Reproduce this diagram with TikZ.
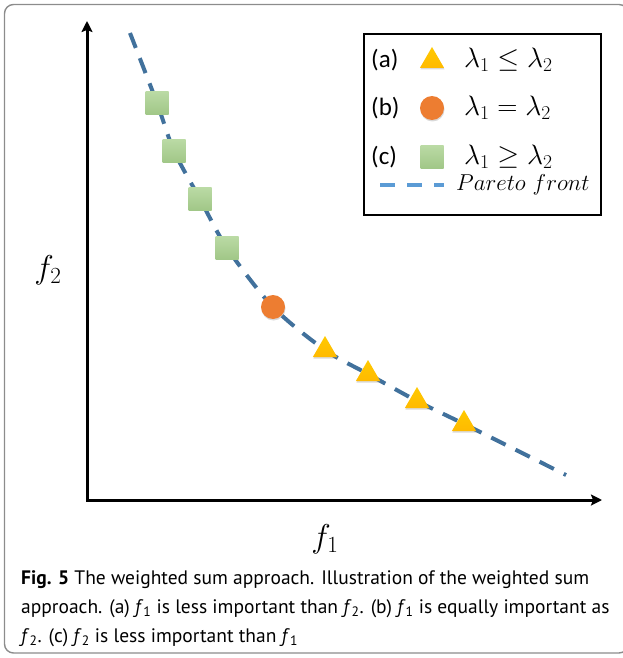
\RequirePackage{fix-cm}
\documentclass[tikz,border=0pt]{standalone}
\usepackage{amsmath}
\usepackage{amssymb}
\usepackage{xcolor}
\usepackage{fontspec}
\usetikzlibrary{arrows.meta,shapes.geometric,shadows,backgrounds}
\newfontfamily\capfont{PT Sans}
\newfontfamily\legfont{Carlito}
\definecolor{frontblue}{HTML}{41719C}
\definecolor{legblue}{HTML}{5B9BD5}
\definecolor{trigold}{HTML}{FFC000}
\definecolor{dotorange}{HTML}{ED7D31}
\definecolor{sqgreen}{HTML}{A9D18E}
\definecolor{framegray}{HTML}{8C8C8C}

\begin{document}
\begin{tikzpicture}[x=1pt,y=-1pt,>={Stealth[length=11pt,width=11pt,inset=2pt]},
  axis/.style={line width=3pt,line join=miter},
  frontline/.style={frontblue,line width=4pt,dash pattern=on 16pt off 11pt},
  sqmark/.style={rectangle,minimum size=23pt,inner sep=0pt,
    top color=sqgreen!80!white,bottom color=sqgreen!95!black},
  dotmark/.style={circle,minimum size=24pt,inner sep=0pt,fill=dotorange,
    drop shadow={opacity=0.3,shadow xshift=0.5pt,shadow yshift=-1.5pt}},
  trimark/.style={regular polygon,regular polygon sides=3,minimum size=28pt,
    inner sep=0pt,top color=trigold!85!yellow,bottom color=trigold!90!orange,
    drop shadow={opacity=0.3,shadow xshift=0.5pt,shadow yshift=-1.5pt}},
  axlabel/.style={font=\fontsize{33}{36}\selectfont},
  legtext/.style={anchor=west,inner sep=0pt,font=\legfont\fontsize{25}{28}\selectfont},
  lammath/.style={anchor=west,inner sep=0pt,font=\fontsize{28}{32}\selectfont},
  captext/.style={anchor=base west,inner sep=0pt,font=\capfont\fontsize{19.5}{29}\selectfont}]
  \useasboundingbox (0,0) rectangle (623,658);
  \draw[framegray,line width=1.4pt,rounded corners=9pt] (4.5,4.5) rectangle (628,653);

  % axes
  \coordinate (origin) at (87,500);
  \coordinate (ytip) at (87,21);
  \coordinate (xtip) at (602,500);
  \draw[axis,<->] (ytip) -- (origin) -- (xtip);
  \node[axlabel] (f2) at (48,270) {$f_2$};
  \node[axlabel] (f1) at (325,539) {$f_1$};

  % markers on the front
  \node[sqmark] (s1) at (157,103) {};
  \node[sqmark] (s2) at (174,151) {};
  \node[sqmark] (s3) at (200,199) {};
  \node[sqmark] (s4) at (227,248) {};
  \node[dotmark] (m1) at (273,307) {};
  \node[trimark] (t1) at (325,350) {};
  \node[trimark] (t2) at (368,374) {};
  \node[trimark] (t3) at (417,401) {};
  \node[trimark] (t4) at (464,424) {};
  \coordinate (ftop) at (130,33);
  \coordinate (fend) at (566,475);
  \begin{scope}[on background layer]
    \draw[frontline] plot[smooth] coordinates {(ftop) (s1.center) (s2.center) (s3.center)
      (s4.center) (m1.center) (t1.center) (t2.center) (t3.center) (t4.center) (fend)};
  \end{scope}

  % legend
  \draw[line width=1.5pt] (364,34) rectangle (601,215);
  \node[legtext] (la) at (371,60) {(a)};
  \node[legtext] (lb) at (371,108) {(b)};
  \node[legtext] (lc) at (371,157) {(c)};
  \node[trimark] (ta) at (432,61) {};
  \node[dotmark] (ma) at (432,108) {};
  \node[sqmark] (sa) at (432,157) {};
  \node[lammath] (ea) at (464,60) {$\lambda_1 \leq \lambda_2$};
  \node[lammath] (eb) at (464,108) {$\lambda_1 = \lambda_2$};
  \node[lammath] (ec) at (464,157) {$\lambda_1 \geq \lambda_2$};
  \coordinate (da) at (380,185);
  \coordinate (db) at (444,185);
  \draw[legblue,line width=4pt,dash pattern=on 15pt off 12pt] (da) -- (db);
  \node[anchor=west,inner sep=0pt,font=\fontsize{23}{27}\selectfont] (pf) at (456,185)
    {$Pareto\ front$};

  % caption
  \node[captext] (cap1) at (21,584) {\textbf{Fig. 5} The weighted sum approach. Illustration of the weighted sum};
  \node[captext] (cap2) at (21,613) {approach. (a) \textit{f}\textsubscript{1} is less important than \textit{f}\textsubscript{2}. (b) \textit{f}\textsubscript{1} is equally important as};
  \node[captext] (cap3) at (21,642) {\textit{f}\textsubscript{2}. (c) \textit{f}\textsubscript{2} is less important than \textit{f}\textsubscript{1}};
\end{tikzpicture}
\end{document}
